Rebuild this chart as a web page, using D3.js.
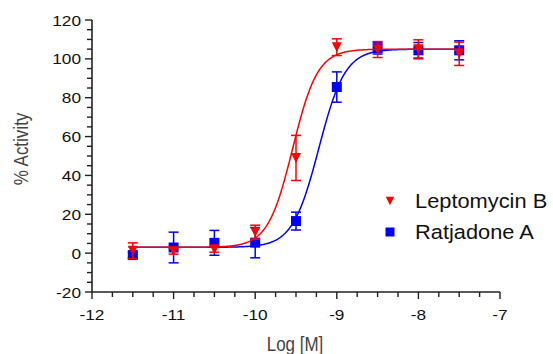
<!DOCTYPE html>
<html><head><meta charset="utf-8">
<script src="https://cdn.jsdelivr.net/npm/d3@7"></script>
<style>body{margin:0;background:#fff}</style>
</head><body>
<svg id="c" width="553" height="354"></svg>
<script>
const logConc = [-11.5, -11, -10.5, -10, -9.5, -9, -8.5, -8, -7.5];
const leptoMean = [1.2, 1.0, 2.0, 10.8, 49, 106, 104.8, 104.9, 102.6];
const leptoErr  = [4.1, 1.5, 1.5, 3.6, 11.6, 4.3, 4.1, 4.9, 6.0];
const ratjMean  = [-1, 2.9, 5.3, 5.4, 16.5, 85.5, 105.5, 104.4, 104.4];
const ratjErr   = [1.5, 7.9, 6.4, 7.8, 4.6, 7.8, 3.0, 4.0, 4.9];
// 4PL fit parameters: [bottom, top, logEC50, hill]
const leptoFit = [3, 105, -9.54, 2.85];
const ratjFit  = [3, 105, -9.22, 2.7];
const xTicks = [-12, -11, -10, -9, -8, -7];
const yTicks = [-20, 0, 20, 40, 60, 80, 100, 120];
const seriesNames = ["Leptomycin B", "Ratjadone A"];

const svg = d3.select("#c");
const x = d3.scaleLinear().domain([-12, -7]).range([92, 500]);
const y = d3.scaleLinear().domain([-20, 120]).range([292, 20]);
const TS = 1.15;

// axes
const axisColor = "#222";
const gx = svg.append("g");
gx.append("line").attr("x1", x(-12)).attr("x2", x(-7)).attr("y1", y(-20)).attr("y2", y(-20))
  .attr("stroke", axisColor).attr("stroke-width", 1.6);
d3.range(-12, -6.99, 0.25).forEach(v => {
  const major = Math.abs(v - Math.round(v)) < 1e-6;
  gx.append("line").attr("x1", x(v)).attr("x2", x(v)).attr("y1", y(-20)).attr("y2", y(-20) + (major ? 7 : 5))
    .attr("stroke", axisColor).attr("stroke-width", 1.4);
});
xTicks.forEach(v => {
  gx.append("text").attr("transform", `translate(${x(v)},320) scale(${TS},1)`)
    .attr("text-anchor", "middle").attr("font-family", "Liberation Sans, Arial, sans-serif")
    .attr("font-size", 15).attr("fill", "#111").text(v);
});
const gy = svg.append("g");
gy.append("line").attr("x1", x(-12)).attr("x2", x(-12)).attr("y1", y(-20)).attr("y2", y(120))
  .attr("stroke", axisColor).attr("stroke-width", 1.6);
d3.range(-20, 120.01, 5).forEach(v => {
  const major = v % 20 === 0;
  gy.append("line").attr("x1", x(-12) - (major ? 7 : 5)).attr("x2", x(-12)).attr("y1", y(v)).attr("y2", y(v))
    .attr("stroke", axisColor).attr("stroke-width", 1.4);
});
yTicks.forEach(v => {
  gy.append("text").attr("transform", `translate(81,${y(v) + 5.5}) scale(${TS},1)`)
    .attr("text-anchor", "end").attr("font-family", "Liberation Sans, Arial, sans-serif")
    .attr("font-size", 15).attr("fill", "#111").text(v);
});
// axis titles (narrow)
svg.append("text").attr("transform", `translate(295,351) scale(0.85,1)`)
  .attr("text-anchor", "middle").attr("font-family", "Liberation Sans, Arial, sans-serif")
  .attr("font-size", 20).attr("fill", "#444").text("Log [M]");
svg.append("text").attr("transform", `translate(28,149) rotate(-90) scale(0.85,1)`)
  .attr("text-anchor", "middle").attr("font-family", "Liberation Sans, Arial, sans-serif")
  .attr("font-size", 20).attr("fill", "#444").text("% Activity");

function fourPL(p, lx) { return p[0] + (p[1] - p[0]) / (1 + Math.pow(10, (p[2] - lx) * p[3])); }
const curveX = d3.range(-11.55, -7.449, 0.01);
const line = d3.line().x(d => x(d[0])).y(d => y(d[1]));

const series = [
  { name: seriesNames[1], mean: ratjMean, err: ratjErr, fit: ratjFit, color: "#0000ff", shape: "square" },
  { name: seriesNames[0], mean: leptoMean, err: leptoErr, fit: leptoFit, color: "#ff0000", shape: "tri" }
];
function drawMarker(g, cx, cy, shape, color, s) {
  if (shape === "square") {
    g.append("rect").attr("x", cx - s / 2).attr("y", cy - s / 2).attr("width", s).attr("height", s).attr("fill", color);
  } else {
    const h = s;
    g.append("path").attr("d", `M${cx - s / 2},${cy - h / 2}L${cx + s / 2},${cy - h / 2}L${cx},${cy + h / 2}Z`).attr("fill", color);
  }
}
series.forEach(s => {
  const g = svg.append("g");
  g.append("path").datum(curveX.map(v => [v, fourPL(s.fit, v)])).attr("d", line)
    .attr("fill", "none").attr("stroke", s.color).attr("stroke-width", 1.5);
  logConc.forEach((c, i) => {
    const cx = x(c), top = y(s.mean[i] + s.err[i]), bot = y(s.mean[i] - s.err[i]);
    g.append("line").attr("x1", cx).attr("x2", cx).attr("y1", top).attr("y2", bot).attr("stroke", s.color).attr("stroke-width", 1.5);
    [top, bot].forEach(yy => g.append("line").attr("x1", cx - 5).attr("x2", cx + 5).attr("y1", yy).attr("y2", yy)
      .attr("stroke", s.color).attr("stroke-width", 1.5));
    drawMarker(g, cx, y(s.mean[i]), s.shape, s.color, s.shape === "square" ? 10 : 10);
  });
});

// legend
const lg = svg.append("g");
[[seriesNames[0], "tri", "#ff0000", 201, 207.5], [seriesNames[1], "square", "#0000ff", 232, 238.5]].forEach(d => {
  drawMarker(lg, 390, d[3], d[1], d[2], d[1] === "square" ? 9 : 8.5);
  lg.append("text").attr("transform", `translate(415,${d[4]}) scale(1.12,1)`)
    .attr("font-family", "Liberation Sans, Arial, sans-serif").attr("font-size", 19.5).attr("fill", "#111").text(d[0]);
});
</script>
</body></html>
